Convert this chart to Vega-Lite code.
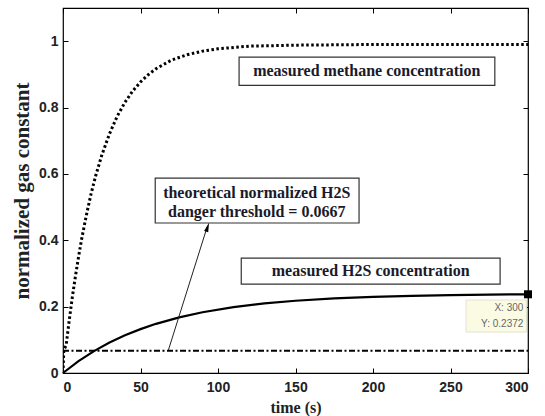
{
  "$schema": "https://vega.github.io/schema/vega-lite/v6.json",
  "width": 465,
  "height": 365,
  "autosize": {"type": "none"},
  "padding": {"left": 63, "top": 8, "right": 17, "bottom": 43},
  "background": "white",
  "config": {
    "view": {"stroke": "black", "strokeWidth": 1.2},
    "axis": {"grid": false, "domain": false, "ticks": true, "tickColor": "black", "tickSize": -5, "labelFont": "Liberation Sans", "labelFontWeight": "bold", "labelFontSize": 14, "labelColor": "#222", "titleFont": "Liberation Serif", "titleFontWeight": "bold", "titleColor": "#222"}
  },
  "datasets": {
    "methane": [
      {"t": 0, "v": 0}, {"t": 0.5, "v": 0.07}, {"t": 2, "v": 0.0825}, {"t": 4, "v": 0.158}, {"t": 6, "v": 0.228}, {"t": 8, "v": 0.291},
      {"t": 10, "v": 0.349}, {"t": 12, "v": 0.403}, {"t": 15, "v": 0.474}, {"t": 18, "v": 0.538},
      {"t": 21, "v": 0.593}, {"t": 25, "v": 0.656}, {"t": 30, "v": 0.721}, {"t": 35, "v": 0.774},
      {"t": 40, "v": 0.816}, {"t": 45, "v": 0.85}, {"t": 50, "v": 0.877}, {"t": 55, "v": 0.899},
      {"t": 60, "v": 0.917}, {"t": 70, "v": 0.943}, {"t": 80, "v": 0.959}, {"t": 90, "v": 0.97},
      {"t": 100, "v": 0.977}, {"t": 120, "v": 0.985}, {"t": 150, "v": 0.988}, {"t": 200, "v": 0.99},
      {"t": 250, "v": 0.99}, {"t": 300, "v": 0.99}
    ],
    "h2s": [
      {"t": 0, "v": 0}, {"t": 10, "v": 0.0356}, {"t": 20, "v": 0.066}, {"t": 30, "v": 0.0917},
      {"t": 40, "v": 0.1135}, {"t": 50, "v": 0.1322}, {"t": 60, "v": 0.1482}, {"t": 75, "v": 0.1678},
      {"t": 90, "v": 0.1831}, {"t": 110, "v": 0.1984}, {"t": 130, "v": 0.2096}, {"t": 150, "v": 0.2177},
      {"t": 175, "v": 0.2248}, {"t": 200, "v": 0.2295}, {"t": 225, "v": 0.2327}, {"t": 250, "v": 0.2348},
      {"t": 275, "v": 0.2362}, {"t": 300, "v": 0.2372}
    ],
    "threshold": [{"t": 0, "v": 0.0667}, {"t": 300, "v": 0.0667}],
    "arrow": [{"t": 68, "v": 0.069}, {"t": 93, "v": 0.44}],
    "arrowhead": [{"t": 93.3, "v": 0.44}],
    "boxes": [
      {"x1": 113.6, "x2": 278.6, "y1": 0.867, "y2": 0.952},
      {"x1": 59.5, "x2": 191, "y1": 0.452, "y2": 0.587},
      {"x1": 115, "x2": 282, "y1": 0.268, "y2": 0.346}
    ],
    "labels": [
      {"t": 196, "v": 0.909, "label": "measured methane concentration"},
      {"t": 125, "v": 0.542, "label": "theoretical normalized H2S"},
      {"t": 125, "v": 0.485, "label": "danger threshold = 0.0667"},
      {"t": 198.5, "v": 0.307, "label": "measured H2S concentration"}
    ],
    "tipbox": [{"x1": 260, "x2": 299, "y1": 0.1235, "y2": 0.22}],
    "tiptext": [
      {"t": 297, "v": 0.197, "label": "X: 300"},
      {"t": 297, "v": 0.148, "label": "Y: 0.2372"}
    ],
    "tippoint": [{"t": 300, "v": 0.2372}]
  },
  "resolve": {"axis": {"x": "independent", "y": "independent"}},
  "layer": [
    {
      "data": {"name": "methane"},
      "mark": {"type": "line", "color": "black", "strokeWidth": 3, "strokeDash": [2.5, 2.5], "clip": true},
      "encoding": {
        "x": {"field": "t", "type": "quantitative", "scale": {"domain": [0, 300], "nice": false},
          "axis": {"orient": "bottom", "values": [0, 50, 100, 150, 200, 250, 300], "title": "time (s)", "titleFontSize": 16, "labelPadding": 12, "titlePadding": 5}},
        "y": {"field": "v", "type": "quantitative", "scale": {"domain": [0, 1.1], "nice": false, "zero": true},
          "axis": {"orient": "left", "values": [0, 0.2, 0.4, 0.6, 0.8, 1], "format": "~g", "title": "normalized gas constant", "titleFontSize": 21, "labelAlign": "right", "labelBaseline": "middle", "labelPadding": 10, "titlePadding": 6}}
      }
    },
    {
      "data": {"name": "h2s"},
      "mark": {"type": "line", "color": "black", "strokeWidth": 2.2},
      "encoding": {
        "x": {"field": "t", "type": "quantitative", "axis": {"orient": "top", "values": [0, 50, 100, 150, 200, 250, 300], "labels": false, "title": null}},
        "y": {"field": "v", "type": "quantitative", "axis": {"orient": "right", "values": [0, 0.2, 0.4, 0.6, 0.8, 1], "labels": false, "title": null}}
      }
    },
    {
      "data": {"name": "threshold"},
      "mark": {"type": "line", "color": "black", "strokeWidth": 2, "strokeDash": [6, 2.5, 2, 2.5]},
      "encoding": {
        "x": {"field": "t", "type": "quantitative", "axis": null},
        "y": {"field": "v", "type": "quantitative", "axis": null}
      }
    },
    {
      "data": {"name": "arrow"},
      "mark": {"type": "line", "color": "#222", "strokeWidth": 1},
      "encoding": {
        "x": {"field": "t", "type": "quantitative", "axis": null},
        "y": {"field": "v", "type": "quantitative", "axis": null}
      }
    },
    {
      "data": {"name": "arrowhead"},
      "mark": {"type": "point", "shape": "M0,-1L0.45,1L-0.45,1Z", "angle": 17.6, "filled": true, "color": "black", "size": 90, "opacity": 1},
      "encoding": {
        "x": {"field": "t", "type": "quantitative", "axis": null},
        "y": {"field": "v", "type": "quantitative", "axis": null}
      }
    },
    {
      "data": {"name": "boxes"},
      "mark": {"type": "rect", "fill": "white", "stroke": "#333", "strokeWidth": 1.2},
      "encoding": {
        "x": {"field": "x1", "type": "quantitative", "axis": null},
        "x2": {"field": "x2"},
        "y": {"field": "y1", "type": "quantitative", "axis": null},
        "y2": {"field": "y2"}
      }
    },
    {
      "data": {"name": "labels"},
      "mark": {"type": "text", "font": "Liberation Serif", "fontWeight": "bold", "fontSize": 16, "color": "#1a1a2a", "align": "center", "baseline": "middle"},
      "encoding": {
        "x": {"field": "t", "type": "quantitative", "axis": null},
        "y": {"field": "v", "type": "quantitative", "axis": null},
        "text": {"field": "label"}
      }
    },
    {
      "data": {"name": "tipbox"},
      "mark": {"type": "rect", "fill": "#fbfbe4", "stroke": "#e2e2d0", "strokeWidth": 1},
      "encoding": {
        "x": {"field": "x1", "type": "quantitative", "axis": null},
        "x2": {"field": "x2"},
        "y": {"field": "y1", "type": "quantitative", "axis": null},
        "y2": {"field": "y2"}
      }
    },
    {
      "data": {"name": "tiptext"},
      "mark": {"type": "text", "font": "Liberation Sans", "fontSize": 10, "color": "#666", "align": "right", "baseline": "middle"},
      "encoding": {
        "x": {"field": "t", "type": "quantitative", "axis": null},
        "y": {"field": "v", "type": "quantitative", "axis": null},
        "text": {"field": "label"}
      }
    },
    {
      "data": {"name": "tippoint"},
      "mark": {"type": "square", "filled": true, "color": "black", "size": 64, "opacity": 1, "clip": false},
      "encoding": {
        "x": {"field": "t", "type": "quantitative", "axis": null},
        "y": {"field": "v", "type": "quantitative", "axis": null}
      }
    }
  ]
}
